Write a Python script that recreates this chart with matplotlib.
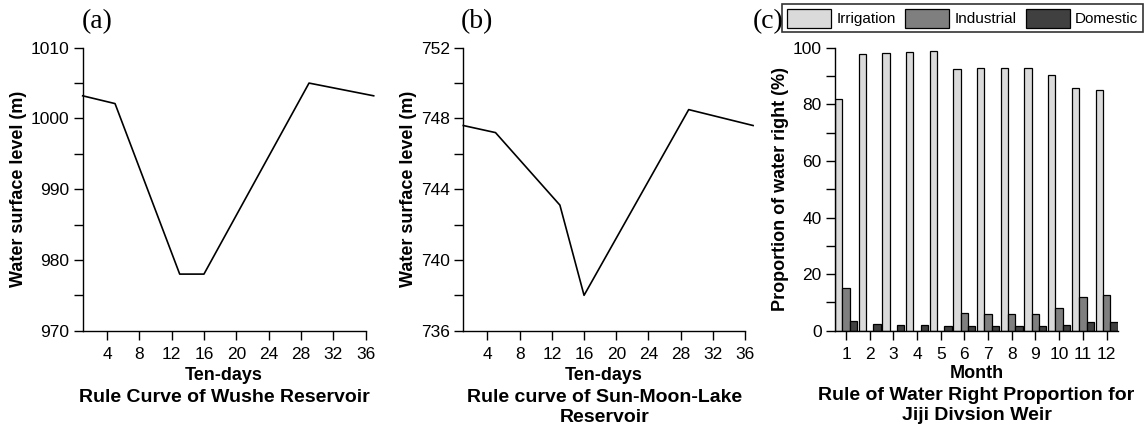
import matplotlib
matplotlib.use("Agg")
import matplotlib.pyplot as plt
import matplotlib.transforms as mtransforms
from matplotlib.ticker import MultipleLocator
import numpy as np

plt.rcParams['font.family'] = ['Liberation Sans', 'DejaVu Sans']

# ---- data ----
wushe_x = [1, 5, 13, 16, 29, 37]
wushe_y = [1003.2, 1002.1, 978.0, 978.0, 1005.0, 1003.2]

smlake_x = [1, 5, 13, 16, 29, 37]
smlake_y = [747.6, 747.2, 743.1, 738.0, 748.5, 747.6]

months = [1, 2, 3, 4, 5, 6, 7, 8, 9, 10, 11, 12]
irrigation = [81.7, 97.9, 98.3, 98.5, 98.8, 92.5, 92.9, 92.9, 92.9, 90.3, 85.7, 84.9]
industrial = [15.1, 0.0, 0.0, 0.0, 0.0, 6.2, 6.0, 5.9, 5.9, 8.1, 11.9, 12.5]
domestic = [3.6, 2.4, 2.0, 2.0, 1.5, 1.6, 1.5, 1.5, 1.5, 2.1, 2.9, 3.1]

ten_day_ticks = [4, 8, 12, 16, 20, 24, 28, 32, 36]

W, H = 1148, 428
fig = plt.figure(figsize=(W / 100, H / 100), dpi=100)

def px_axes(left, top, right, bottom):
    return fig.add_axes([left / W, 1 - bottom / H, (right - left) / W, (bottom - top) / H])

TICK_FS = 12.5
LAB_FS = 13
SUB_FS = 14

def style_axes(ax):
    ax.spines['top'].set_visible(False)
    ax.spines['right'].set_visible(False)
    for s in ('left', 'bottom'):
        ax.spines[s].set_linewidth(1.0)
    ax.tick_params(axis='both', which='both', direction='out', length=6.5, width=1.0,
                   labelsize=TICK_FS, colors='black')
    ax.tick_params(axis='x', which='major', pad=5)
    ax.tick_params(axis='y', which='major', pad=3)

def bottom_text(ax, xcenter, lines_y, texts, sizes):
    tr = mtransforms.blended_transform_factory(ax.transData, fig.transFigure)
    for y, t, fs in zip(lines_y, texts, sizes):
        ax.text(xcenter, 1 - y / H, t, transform=tr, ha='center', va='center',
                fontsize=fs, fontweight='bold', clip_on=False)

# ---- (a) ----
axa = px_axes(82.7, 47.7, 82.7 + 36 * 8.083, 330.7)
axa.plot(wushe_x, wushe_y, color='black', lw=1.2, clip_on=False)
axa.set_xlim(1, 37)
axa.set_ylim(970, 1010)
axa.set_xticks(ten_day_ticks)
axa.set_yticks([970, 980, 990, 1000, 1010])
axa.yaxis.set_minor_locator(MultipleLocator(5))
style_axes(axa)
axa.spines['bottom'].set_bounds(1, 36)
axa.set_ylabel('Water surface level (m)', fontsize=LAB_FS, fontweight='bold', labelpad=3)
bottom_text(axa, 18.5, [376, 397], ['Ten-days', 'Rule Curve of Wushe Reservoir'], [LAB_FS, SUB_FS])
fig.text(97 / W, 1 - 22 / H, '(a)', fontsize=20, family=['Liberation Serif'], ha='center', va='center')

# ---- (b) ----
axb = px_axes(463.3, 47.7, 463.3 + 36 * 8.05, 330.7)
axb.plot(smlake_x, smlake_y, color='black', lw=1.2, clip_on=False)
axb.set_xlim(1, 37)
axb.set_ylim(736, 752)
axb.set_xticks(ten_day_ticks)
axb.set_yticks([736, 740, 744, 748, 752])
axb.yaxis.set_minor_locator(MultipleLocator(2))
style_axes(axb)
axb.spines['bottom'].set_bounds(1, 36)
axb.set_ylabel('Water surface level (m)', fontsize=LAB_FS, fontweight='bold', labelpad=3)
bottom_text(axb, 18.5, [376, 397, 417], ['Ten-days', 'Rule curve of Sun-Moon-Lake', 'Reservoir'],
            [LAB_FS, SUB_FS, SUB_FS])
fig.text(477 / W, 1 - 22 / H, '(b)', fontsize=20, family=['Liberation Serif'], ha='center', va='center')

# ---- (c) ----
axc = px_axes(835, 47.7, 1118, 330.7)
w = 0.31
x = np.array(months, dtype=float)
bars_i = axc.bar(x - w, irrigation, width=w, color='#dadada', edgecolor='black', linewidth=0.9, label='Irrigation')
bars_n = axc.bar(x, industrial, width=w, color='#7f7f7f', edgecolor='black', linewidth=0.9, label='Industrial')
bars_d = axc.bar(x + w, domestic, width=w, color='#404040', edgecolor='black', linewidth=0.9, label='Domestic')
axc.set_xlim(1 - 1.5 * w, 12 + 1.5 * w + 0.02)
axc.set_ylim(0, 100)
axc.set_xticks(months)
axc.set_yticks([0, 20, 40, 60, 80, 100])
axc.yaxis.set_minor_locator(MultipleLocator(10))
style_axes(axc)
axc.set_ylabel('Proportion of water right (%)', fontsize=LAB_FS, fontweight='bold', labelpad=3)
mid = (axc.get_xlim()[0] + axc.get_xlim()[1]) / 2
bottom_text(axc, mid, [373, 395, 415], ['Month', 'Rule of Water Right Proportion for', 'Jiji Divsion Weir'],
            [LAB_FS, SUB_FS, SUB_FS])
fig.text(768 / W, 1 - 22 / H, '(c)', fontsize=20, family=['Liberation Serif'], ha='center', va='center')

leg = fig.legend(handles=[bars_i, bars_n, bars_d], labels=['Irrigation', 'Industrial', 'Domestic'],
                 loc='upper right', bbox_to_anchor=(1143 / W, 1 - 4 / H), ncol=3, fontsize=11,
                 frameon=True, fancybox=False, edgecolor='black', borderaxespad=0,
                 handlelength=2.9, handleheight=1.55, handletextpad=0.35, columnspacing=0.6,
                 borderpad=0.3)
leg.get_frame().set_linewidth(1.2)

fig.savefig('out.png', dpi=100)
